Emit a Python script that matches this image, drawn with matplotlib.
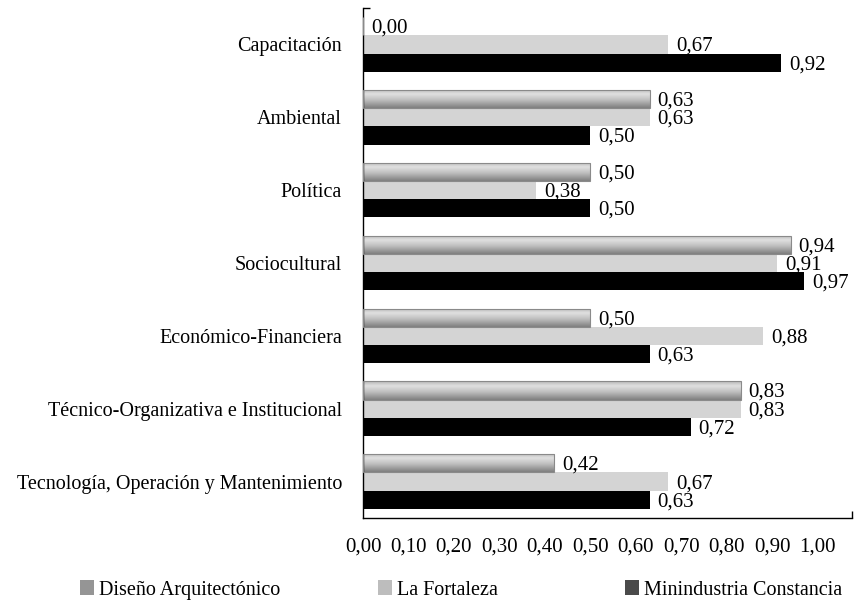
import matplotlib
matplotlib.use("Agg")
import matplotlib.pyplot as plt
import numpy as np
from matplotlib.patches import Patch
from matplotlib.colors import LinearSegmentedColormap

plt.rcParams['font.family'] = ['Liberation Serif', 'DejaVu Serif']

categories = ["Capacitación", "Ambiental", "Política", "Sociocultural",
              "Económico-Financiera", "Técnico-Organizativa e Institucional",
              "Tecnología, Operación y Mantenimiento"]
series_names = ["Diseño Arquitectónico", "La Fortaleza", "Minindustria Constancia"]
diseno = [0.00, 0.63, 0.50, 0.94, 0.50, 0.83, 0.42]
fortaleza = [0.67, 0.63, 0.38, 0.91, 0.88, 0.83, 0.67]
minindustria = [0.92, 0.50, 0.50, 0.97, 0.63, 0.72, 0.63]
xticks = [0.0, 0.1, 0.2, 0.3, 0.4, 0.5, 0.6, 0.7, 0.8, 0.9, 1.0]

FS = 14.5
FSV = 15
fig = plt.figure(figsize=(8.64, 6.06), dpi=100)
ax = fig.add_axes([363/864, 1-518/606, (852-363)/864, (518-8)/606])

y = np.arange(len(categories))
h = 0.25
grad_cmap = LinearSegmentedColormap.from_list(
    "g", [(0.0, (0.72,)*3), (0.25, (0.88,)*3), (0.55, (0.76,)*3), (1.0, (0.50,)*3)])
grad = np.linspace(0, 1, 64).reshape(-1, 1)

b1 = ax.barh(y - h, diseno, height=h, facecolor='none', edgecolor='#8a8a8a', linewidth=0.8, zorder=3)
b2 = ax.barh(y, fortaleza, height=h, color='#d4d4d4', zorder=2)
b3 = ax.barh(y + h, minindustria, height=h, color='black', zorder=2)

for rect in b1:
    w = rect.get_width()
    if w <= 0:
        continue
    y0 = rect.get_y()
    im = ax.imshow(grad, extent=(0, w, y0 + rect.get_height(), y0), origin='upper',
                   aspect='auto', cmap=grad_cmap, vmin=0, vmax=1, zorder=2)
    im.set_clip_path(rect)

def fmt(v):
    return f"{v:.2f}".replace('.', ',')

for bars, vals in ((b1, diseno), (b2, fortaleza), (b3, minindustria)):
    for rect, v in zip(bars, vals):
        ax.annotate(fmt(v), (v, rect.get_y() + rect.get_height()/2),
                    xytext=(8, -2), textcoords='offset pixels',
                    ha='left', va='center', fontsize=FSV, zorder=5)

ax.set_xlim(0, 1.075)
ax.set_ylim(len(categories) - 0.5, -0.5)
ax.set_yticks(y)
ax.set_yticklabels(categories, fontsize=FS)
ax.set_xticks(xticks)
ax.set_xticklabels([fmt(t) for t in xticks], fontsize=FSV)
ax.tick_params(axis='y', length=0, pad=15)
ax.tick_params(axis='x', length=0, pad=14)
ax.set_xticks([1.075], minor=True)
ax.set_yticks([-0.5], minor=True)
ax.tick_params(which='minor', direction='in', length=5, width=1.0, color='black')
for s in ('top', 'right'):
    ax.spines[s].set_visible(False)
for s in ('left', 'bottom'):
    ax.spines[s].set_linewidth(1.0)
    ax.spines[s].set_color('black')

legend_colors = ['#959595', '#bdbdbd', '#4a4a4a']
anchors = [80/864, 378/864, 625/864]
for name, col, ax_x in zip(series_names, legend_colors, anchors):
    fig.legend(handles=[Patch(facecolor=col, edgecolor='none', label=name)],
               loc='center left', bbox_to_anchor=(ax_x, 1-590/606),
               frameon=False, fontsize=FS, handlelength=0.7, handleheight=0.7,
               handletextpad=0.25, borderaxespad=0, borderpad=0)

fig.savefig("out.png", dpi=100)
